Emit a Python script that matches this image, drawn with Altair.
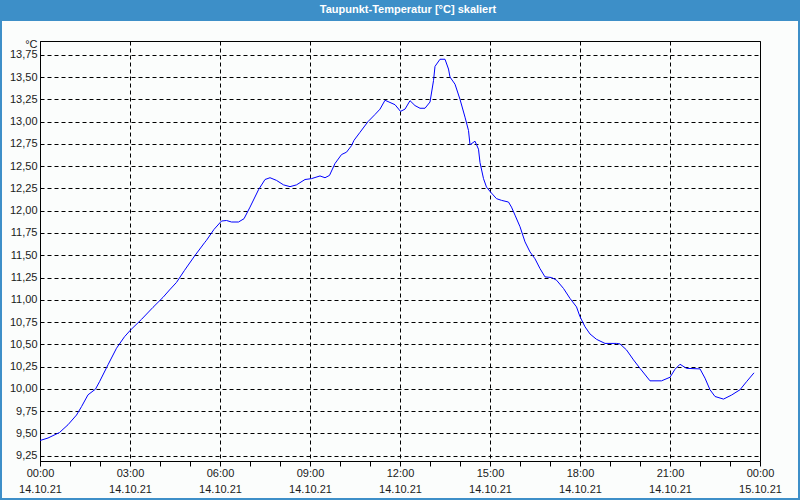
import altair as alt
import pandas as pd

# ---- data ----
minutes = [0, 16, 39, 56, 73, 83, 96, 111, 119, 136, 153, 169, 181, 203, 226, 246, 259, 273,
           289, 309, 329, 333, 348, 363, 373, 383, 397, 408, 420, 437, 450, 460, 473, 487,
           500, 513, 530, 543, 560, 570, 579, 590, 603, 613, 623, 628, 640, 656, 670, 680,
           690, 710, 721, 730, 740, 750, 760, 770, 780, 787, 790, 800, 810, 817, 820, 830,
           840, 850, 857, 860, 870, 877, 880, 887, 893, 901, 913, 923, 937, 943, 950, 960,
           970, 980, 990, 1000, 1010, 1023, 1033, 1047, 1060, 1073, 1080, 1090, 1100, 1113,
           1130, 1153, 1160, 1173, 1187, 1200, 1220, 1243, 1260, 1270, 1280, 1293, 1320,
           1330, 1340, 1350, 1367, 1383, 1400, 1413, 1428]
values = [9.42, 9.448, 9.51, 9.597, 9.706, 9.80, 9.933, 9.997, 10.08, 10.27, 10.456, 10.585,
          10.66, 10.78, 10.915, 11.027, 11.11, 11.195, 11.33, 11.49, 11.64, 11.668, 11.79,
          11.884, 11.89, 11.873, 11.873, 11.91, 12.04, 12.235, 12.35, 12.37, 12.34, 12.29,
          12.27, 12.29, 12.35, 12.36, 12.39, 12.37, 12.396, 12.53, 12.63, 12.657, 12.73,
          12.79, 12.88, 13.0, 13.08, 13.14, 13.24, 13.19, 13.115, 13.14, 13.235, 13.18,
          13.15, 13.15, 13.22, 13.46, 13.62, 13.70, 13.70, 13.59, 13.50, 13.42, 13.25,
          13.05, 12.90, 12.74, 12.78, 12.69, 12.54, 12.36, 12.265, 12.21, 12.135, 12.116,
          12.097, 12.04, 11.95, 11.82, 11.65, 11.537, 11.46, 11.35, 11.257, 11.25, 11.22,
          11.127, 11.015, 10.92, 10.81, 10.697, 10.616, 10.556, 10.51, 10.51, 10.504,
          10.437, 10.325, 10.23, 10.09, 10.09, 10.13, 10.22, 10.276, 10.23, 10.224, 10.12,
          9.99, 9.914, 9.885, 9.93, 9.99, 10.08, 10.18]

x_tick_hours = [0, 1, 2, 3, 4, 5, 6, 7, 8, 9, 10, 11, 12, 13, 14, 15, 16, 17, 18, 19, 20,
                21, 22, 23, 24]
x_label_times = ["00:00", "03:00", "06:00", "09:00", "12:00", "15:00", "18:00", "21:00", "00:00"]
x_label_dates = ["14.10.21", "14.10.21", "14.10.21", "14.10.21", "14.10.21", "14.10.21",
                 "14.10.21", "14.10.21", "15.10.21"]
y_ticks = [9.25, 9.5, 9.75, 10.0, 10.25, 10.5, 10.75, 11.0, 11.25, 11.5, 11.75, 12.0, 12.25,
           12.5, 12.75, 13.0, 13.25, 13.5, 13.75]
title_text = "Taupunkt-Temperatur [°C] skaliert"
unit_text = "°C"

# ---- styling ----
FONT = "Liberation Sans Narrow, Liberation Sans, Arial, sans-serif"
BLUE = "#3D8FC8"
BG = "#FBFDFC"
TXT = "#1a1a1a"

df = pd.DataFrame({"h": [m / 60 for m in minutes], "v": values})

times_js = "[" + ",".join(f"'{t}'" for t in x_label_times) + "]"
dates_js = "[" + ",".join(f"'{d}'" for d in x_label_dates) + "]"
x_label_expr = (f"datum.value % 3 === 0 ? [{times_js}[datum.value / 3], "
                f"{dates_js}[datum.value / 3]] : ''")

x_axis = alt.Axis(
    values=x_tick_hours, labelExpr=x_label_expr, title=None,
    grid=True, gridColor="black", gridDash=[4, 3], gridWidth=1,
    gridOpacity={"condition": {"test": "datum.value % 3 === 0", "value": 1}, "value": 0},
    tickSize=5, tickColor="black", domainColor="black", domainWidth=1,
    labelFont=FONT, labelFontSize=11, labelColor=TXT, labelPadding=1,
    labelLineHeight=16, labelBaseline="top", labelFlush=False, labelOverlap=False,
)
y_axis = alt.Axis(
    values=y_ticks, labelExpr="replace(format(datum.value, '.2f'), '.', ',')",
    ticks=False, grid=True, gridColor="black", gridDash=[4, 3], gridWidth=1,
    domainColor="black", domainWidth=1,
    labelFont=FONT, labelFontSize=11, labelColor=TXT, labelPadding=3,
    title=unit_text, titleAngle=0, titleAlign="right", titleBaseline="alphabetic",
    titleX=-3, titleY=6, titleFont=FONT, titleFontSize=11, titleFontWeight="normal",
    titleColor=TXT,
)

line = alt.Chart(df).mark_line(color="#0000FF", strokeWidth=1).encode(
    x=alt.X("h:Q", scale=alt.Scale(domain=[0, 24], nice=False, zero=False), axis=x_axis),
    y=alt.Y("v:Q", scale=alt.Scale(domain=[9.19, 13.905], nice=False, zero=False), axis=y_axis),
)

one = alt.Data(values=[{"a": 1}])
title_bar = alt.Chart(one).mark_rect(color=BLUE).encode(
    x=alt.value(-40), x2=alt.value(760), y=alt.value(-41), y2=alt.value(-20)
)
frame = alt.Chart(one).mark_rect(fillOpacity=0, stroke=BLUE, strokeWidth=4).encode(
    x=alt.value(-40), x2=alt.value(760), y=alt.value(-41), y2=alt.value(459)
)
title = alt.Chart(one).mark_text(
    color="white", fontWeight="bold", fontSize=11, font="Liberation Sans",
    align="center", baseline="middle"
).encode(x=alt.value(368), y=alt.value(-31), text=alt.value(title_text))

chart = alt.layer(title_bar, frame, title, line).properties(
    width=720, height=420,
    padding={"left": 40, "top": 41, "right": 40, "bottom": 39},
    autosize=alt.AutoSizeParams(type="none"),
    background=BG,
).configure_view(stroke="black", strokeWidth=1)

chart.save("out.html", embed_options={"renderer": "svg", "actions": False})
